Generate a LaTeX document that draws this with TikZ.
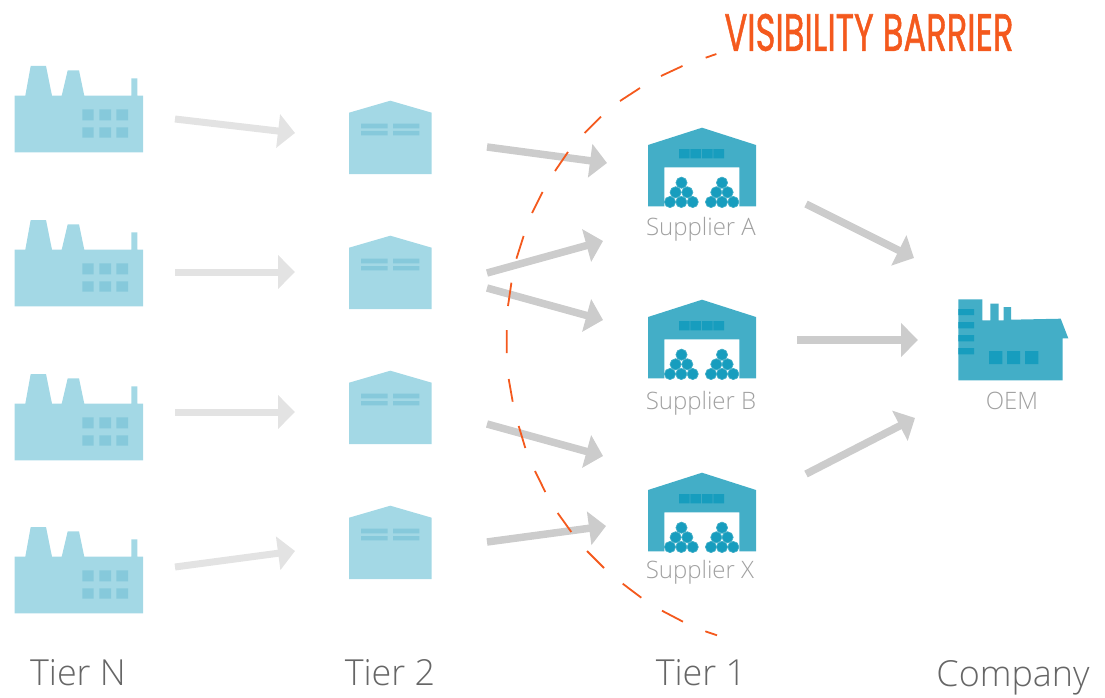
\documentclass[tikz,border=0pt]{standalone}
\usepackage{fontspec}
\usepackage{graphicx}
\usetikzlibrary{arrows.meta}
\setmainfont{Open Sans Light}
\newfontfamily\titlefont[FakeBold=1.2]{Poppins}
\definecolor{lightblue}{HTML}{A3D8E5}
\definecolor{lightwin}{HTML}{86C9DB}
\definecolor{darkblue}{HTML}{43AEC7}
\definecolor{darkwin}{HTML}{179DBE}
\definecolor{labelgray}{HTML}{A0A0A0}
\definecolor{tiergray}{HTML}{666666}
\definecolor{arrowgray}{HTML}{CCCCCC}
\definecolor{fadegray}{HTML}{E3E3E3}
\definecolor{barrierorange}{HTML}{F4591D}
\tikzset{
  x=1pt,y=-1pt,
  flowstrong/.style={draw=arrowgray,line width=7.5pt,-{Triangle[length=17pt,width=33pt,fill=arrowgray]}},
  flowfaint/.style={draw=fadegray,line width=7pt,-{Triangle[length=17pt,width=33pt,fill=fadegray]}},
  barrierline/.style={draw=barrierorange,line width=1.8pt},
  tierlabel/.style={text=tiergray,font=\fontsize{35.9}{36}\selectfont,inner sep=0pt,anchor=base},
  iconlabel/.style={text=labelgray,font=\fontsize{24}{24}\selectfont,inner sep=0pt,anchor=base},
  factoryicon/.pic={
    \fill[lightblue] (14.7,152.3) -- (14.7,95.7) -- (25.3,95.7) -- (30.7,66) -- (46,66) -- (52,95.7) -- (61.7,95.7)
      -- (67.7,70.3) -- (79,70.3) -- (84.3,95.7) -- (131.3,95.7) -- (131.3,78.3) -- (137.3,78.3) -- (137.3,95.7)
      -- (143,95.7) -- (143,152.3) -- cycle;
    \fill[lightwin] (82.3,109.3) rectangle (93.7,120.3) (99.3,109.3) rectangle (111,120.3) (116.3,109.3) rectangle (128,120.3)
      (82.3,127.3) rectangle (93.7,137.7) (99.3,127.3) rectangle (111,137.7) (116.3,127.3) rectangle (128,137.7);
  },
  shedicon/.pic={
    \fill[lightblue] (349,174) -- (349,112.7) -- (390.3,100.7) -- (431.7,112.7) -- (431.7,174) -- cycle;
    \fill[lightwin] (361,123.7) rectangle (387.7,128.3) (393,123.7) rectangle (419.3,128.3)
      (361,131) rectangle (387.7,135.3) (393,131) rectangle (419.3,135.3);
  },
  supplyicon/.pic={
    \fill[darkblue] (648,206.3) -- (648,145) -- (702,127.7) -- (756,145) -- (756,206.3) -- (739.3,206.3)
      -- (739.3,167.3) -- (664.3,167.3) -- (664.3,206.3) -- cycle;
    \fill[darkwin] (679,149) rectangle (689.6,158.3) (690.4,149) rectangle (701,158.3)
      (702,149) rectangle (712.6,158.3) (713.4,149) rectangle (724,158.3);
    \foreach \cx/\cy in {670/202,681.3/202,692.7/202,675.6/192.3,687.3/192.3,681.5/182.7,
                         711/202,722/202,733.3/202,716.3/192.3,727.6/192.3,722/182.7}
      \filldraw[fill=darkwin,draw=darkblue,line width=0.7pt] (\cx,\cy) circle[radius=5.6];
  },
  oemicon/.pic={
    \fill[darkblue] (958.3,380.3) -- (958.3,299.3) -- (982.3,299.3) -- (982.3,320.3) -- (990.3,320.3) -- (990.3,303.7)
      -- (998.7,303.7) -- (998.7,320.3) -- (1003.7,320.3) -- (1003.7,307) -- (1011,307) -- (1011,319.7)
      -- (1060.7,318.7) -- (1068.3,338.3) -- (1062.7,338.3) -- (1062.7,380.3) -- cycle;
    \fill[darkwin] (958.3,309) rectangle (974,315) (958.3,322) rectangle (974,328.3)
      (958.3,335) rectangle (974,341.3) (958.3,348) rectangle (974,354.3)
      (989,351) rectangle (1002.3,364) (1007,351) rectangle (1020,364) (1025,351) rectangle (1038.3,364);
  }
}
\begin{document}
\begin{tikzpicture}
\useasboundingbox (0,0) rectangle (1105,698);
% Tier N factories
\pic (factoryA) at (0,0) {factoryicon};
\pic (factoryB) at (0,154) {factoryicon};
\pic (factoryC) at (0,308) {factoryicon};
\pic (factoryD) at (0,461) {factoryicon};
% Tier 2 sheds
\pic (shedA) at (0,0) {shedicon};
\pic (shedB) at (0,135) {shedicon};
\pic (shedC) at (0,270) {shedicon};
\pic (shedD) at (0,405) {shedicon};
% Tier 1 suppliers
\pic (supA) at (0,0) {supplyicon};
\pic (supB) at (0,172) {supplyicon};
\pic (supX) at (0,345) {supplyicon};
\pic (oem) at (0,0) {oemicon};
% Connector end points
\foreach \n/\x/\y in {a1/175/119,a2/295/133,b1/175/272,b2/295/272,c1/175/412,c2/295/412,d1/175/567,d2/295/551,
  e1/487/147,e2/607/163,f1/487/273,f2/603/241,g1/487/288,g2/603/320,h1/487/424,h2/603/456,i1/487/542,i2/606/526,
  j1/806/204,j2/914/258,k1/797/340,k2/918/340,l1/806/474,l2/915/418}
  \coordinate (\n) at (\x,\y);
\foreach \s/\t in {a1/a2,b1/b2,c1/c2,d1/d2}
  \draw[flowfaint] (\s) -- (\t);
\foreach \s/\t in {e1/e2,f1/f2,g1/g2,h1/h2,i1/i2,j1/j2,k1/k2,l1/l2}
  \draw[flowstrong] (\s) -- (\t);
% Visibility barrier
\draw[barrierline,line cap=butt]
  (716.4,54) -- (705.7,57.7)
  (682.5,66) -- (661,76)
  (640,88) -- (620,101)
  (601,116.7) -- (584.6,133)
  (568,152) -- (555,171)
  (542.5,192) -- (532,213)
  (523.6,236) -- (516.4,258.7)
  (511.4,282.7) -- (508,306)
  (506.7,330) -- (506.7,353)
  (508.7,379) -- (512.7,401.7)
  (518.7,426) -- (525.3,448)
  (535,471) -- (545.3,492)
  (557.7,513) -- (571.3,532)
  (587,551) -- (604,568)
  (622.7,583.7) -- (641.3,597.7)
  (662,610.7) -- (683,621.7)
  (705.3,631.3) -- (717,635.3);
\node[inner sep=0pt,anchor=center,text=barrierorange] (title) at (869,32.5)
  {\resizebox{289pt}{37pt}{\titlefont VISIBILITY BARRIER}};
% Labels
\node[iconlabel] (labA) at (701,235) {Supplier A};
\node[iconlabel] (labB) at (701,409) {Supplier B};
\node[iconlabel] (labX) at (700,578) {Supplier X};
\node[iconlabel] (labO) at (1012,409) {OEM};
\node[tierlabel] (tierN) at (78,685) {Tier N};
\node[tierlabel] (tier2) at (390,685) {Tier 2};
\node[tierlabel] (tier1) at (701,685) {Tier 1};
\node[tierlabel] (company) at (1013,686) {Company};
\end{tikzpicture}
\end{document}
